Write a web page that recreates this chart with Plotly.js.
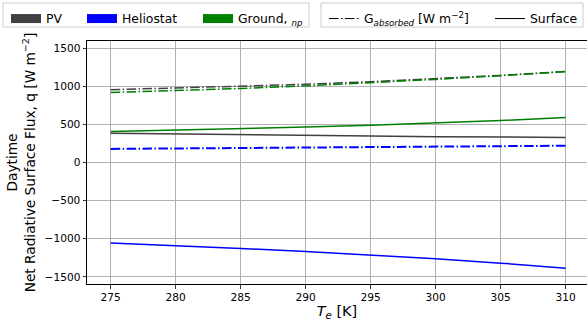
<!DOCTYPE html>
<html>
<head>
<meta charset="utf-8">
<script src="https://cdn.plot.ly/plotly-3.0.1.min.js"></script>
<style>html,body{margin:0;padding:0;overflow:hidden;background:#fff;}#chart{width:587px;height:326px;}</style>
</head>
<body>
<div id="chart"></div>
<script>
// Temperature (K)
const T = [275, 280, 285, 290, 295, 300, 305, 310];
// Absorbed irradiance G_absorbed [W m^-2]
const pvAbs = [957, 980, 1002, 1028, 1063, 1102, 1145, 1197];
const helioAbs = [180, 185, 190, 195, 201, 207, 215, 222];
const groundAbs = [921, 946, 973, 1007, 1048, 1093, 1142, 1195];
// Net radiative surface flux [W m^-2]
const pvSurf = [386, 375, 365, 356, 348, 341, 335, 330];
const helioSurf = [-1057, -1088, -1127, -1167, -1211, -1263, -1320, -1386];
const groundSurf = [408, 426, 447, 468, 491, 520, 553, 592];

const xTicks = [275, 280, 285, 290, 295, 300, 305, 310];
const yTicks = [-1500, -1000, -500, 0, 500, 1000, 1500];

const seriesNames = ['PV', 'Heliostat', 'Ground, <sub><i>np</i></sub>'];
const styleNames = ['G<sub><i>absorbed</i></sub> [W m<sup>\u22122</sup>]', 'Surface'];

const cPV = '#404040', cHel = '#0000ff', cGr = '#008000';
const dashdot = '9.6px,2.4px,1.5px,2.4px';
const F = 'DejaVu Sans, sans-serif';

function line(y, color, dash, w) {
  return {x: T, y: y, type: 'scatter', mode: 'lines', showlegend: false,
          line: {color: color, width: w, dash: dash}};
}
const traces = [
  line(pvAbs, cPV, dashdot, 1.5),
  line(groundAbs, cGr, dashdot, 1.5),
  line(helioAbs, cHel, dashdot, 2),
  line(pvSurf, cPV, 'solid', 1.5),
  line(groundSurf, cGr, 'solid', 1.5),
  line(helioSurf, cHel, 'solid', 1.5),
];
// legend entries (no data), each in its own legend so it can be placed exactly
const legendKeys = ['legend', 'legend2', 'legend3', 'legend4', 'legend5'];
const legendX = [6, 82, 198, 324, 490];          // px from left edge of figure
[cPV, cHel, cGr].forEach((c, i) => {
  traces.push({x: [null], y: [null], type: 'scatter', mode: 'lines', name: seriesNames[i],
    legend: legendKeys[i], line: {color: c, width: 9}});
});
traces.push({x: [null], y: [null], type: 'scatter', mode: 'lines', name: styleNames[0],
  legend: legendKeys[3], line: {color: '#000', width: 1, dash: dashdot}});
traces.push({x: [null], y: [null], type: 'scatter', mode: 'lines', name: styleNames[1],
  legend: legendKeys[4], line: {color: '#000', width: 1}});

const W = 587, H = 326, ML = 87, MR = 0, MT = 41, MB = 42;
const PW = W - ML - MR, PH = H - MT - MB;
const px2x = p => (p - ML) / PW;
const px2y = p => (H - MB - p) / PH;

const layout = {
  width: W, height: H,
  margin: {l: ML, r: MR, t: MT, b: MB},
  paper_bgcolor: '#fff', plot_bgcolor: '#fff',
  font: {family: F, color: '#000'},
  xaxis: {
    range: [273.18, 311.64], tickvals: xTicks, ticktext: xTicks.map(String),
    showgrid: true, gridcolor: '#b0b0b0', gridwidth: 1,
    showline: true, linecolor: '#000', linewidth: 1, mirror: true,
    ticks: 'outside', ticklen: 3.5, tickwidth: 0.8, tickcolor: '#000',
    tickfont: {family: F, size: 10.6, color: '#000'}, zeroline: false,
    title: {text: '<i>T</i><sub><i>e</i></sub> [K]', font: {family: F, size: 14.5, color: '#000'}, standoff: 3},
  },
  yaxis: {
    range: [-1594, 1597], tickvals: yTicks, ticktext: yTicks.map(v => v < 0 ? '\u2212' + Math.abs(v) : String(v)),
    showgrid: true, gridcolor: '#b0b0b0', gridwidth: 1,
    showline: true, linecolor: '#000', linewidth: 1, mirror: false,
    ticks: 'outside', ticklen: 3.5, tickwidth: 0.8, tickcolor: '#000',
    tickfont: {family: F, size: 10.6, color: '#000'}, zeroline: false,
    title: {text: 'Daytime<br>Net Radiative Surface Flux, q [W m<sup>\u22122</sup>]',
            font: {family: F, size: 13.7, color: '#000'}, standoff: 5},
  },
  shapes: [
    {type: 'rect', xref: 'paper', yref: 'paper', x0: px2x(3), x1: px2x(309), y0: px2y(27), y1: px2y(3),
     line: {color: '#cccccc', width: 1}, fillcolor: 'rgba(255,255,255,0.8)', layer: 'above'},
    {type: 'rect', xref: 'paper', yref: 'paper', x0: px2x(321), x1: px2x(583), y0: px2y(27), y1: px2y(3),
     line: {color: '#cccccc', width: 1}, fillcolor: 'rgba(255,255,255,0.8)', layer: 'above'},
  ],
};
legendKeys.forEach((k, i) => {
  layout[k] = {orientation: 'h', xanchor: 'left', yanchor: 'top', x: px2x(legendX[i]), y: px2y(4),
    bgcolor: 'rgba(0,0,0,0)', borderwidth: 0, font: {family: F, size: 12.4, color: '#000'}};
});
Plotly.newPlot('chart', traces, layout, {staticPlot: true, displayModeBar: false});
</script>
</body>
</html>
